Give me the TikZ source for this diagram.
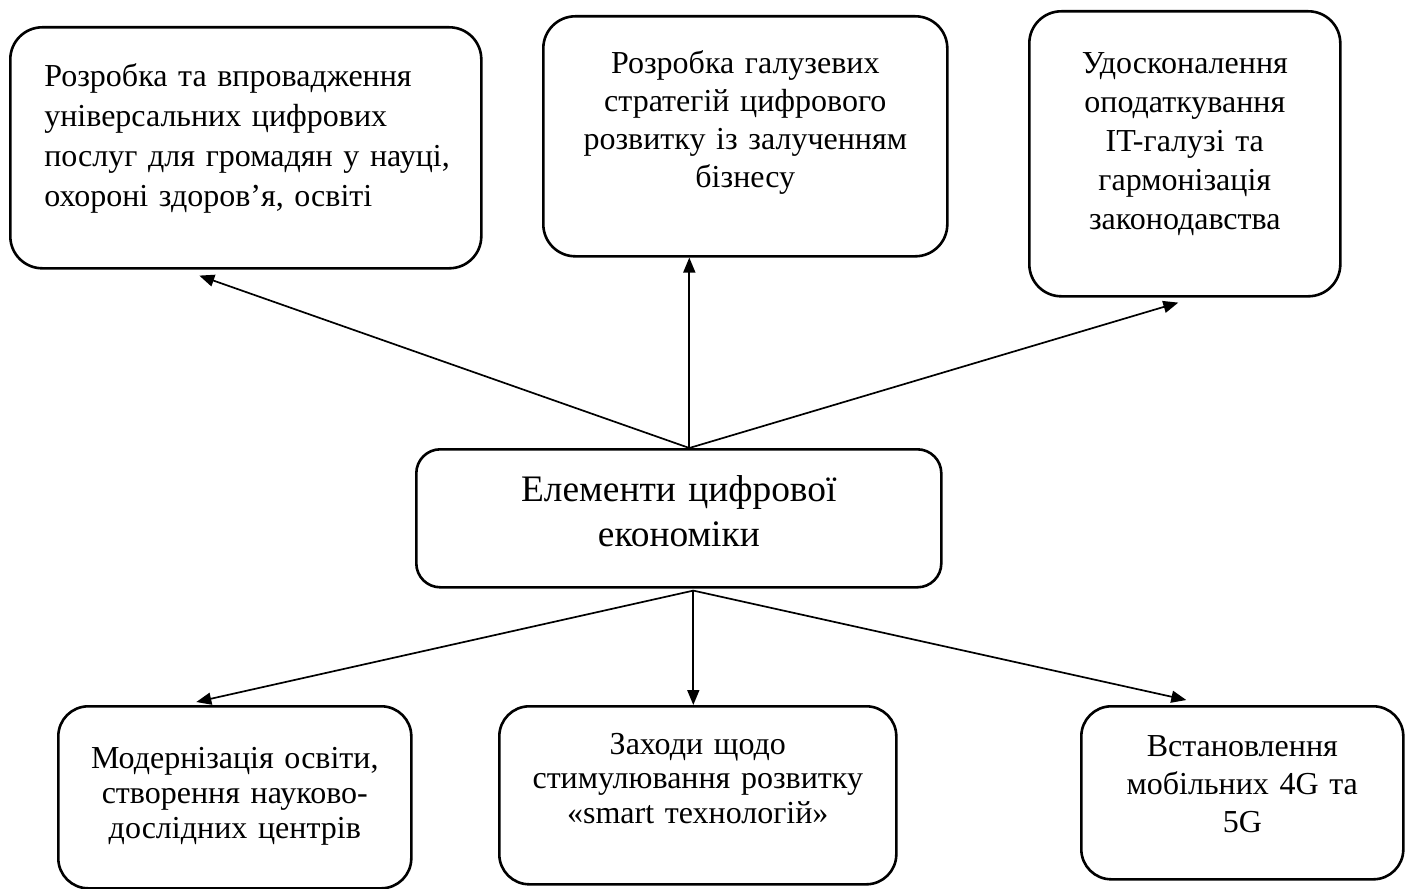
\documentclass[tikz,border=0pt]{standalone}
\usepackage{fontspec}
\setmainfont{Liberation Serif}
\usetikzlibrary{arrows.meta}
\tikzset{
  every picture/.style={line join=round, line cap=round},
  elem/.style={draw, line width=1.3pt, rounded corners=16pt, inner sep=0pt,
    anchor=north west, align=center},
  arr/.style={-{Triangle[length=7.5pt,width=6pt]}, line width=0.85pt},
}

\begin{document}
\begin{tikzpicture}[x=0.5pt,y=-0.5pt]
\useasboundingbox (0,0) rectangle (1411,888);
% main element
\node[elem, rounded corners=12pt, text width=262.5pt, text height=26pt, text depth=43pt,
  font=\fontsize{18.7}{22.5}\selectfont] (eco) at (415,448) {Елементи цифрової\\ економіки};
% top row
\node[elem, align=left, text width=235.5pt, text height=29.5pt, text depth=91pt,
  font=\fontsize{16}{20}\selectfont] (tl) at (9,26)
  {\leftskip=17pt Розробка та впровадження\\ універсальних цифрових\\ послуг для громадян у науці,\\ охороні здоров’я, освіті\par};
\node[elem, text width=202pt, text height=28.5pt, text depth=91.5pt,
  font=\fontsize{16}{19}\selectfont] (tm) at (542,15)
  {Розробка галузевих\\ стратегій цифрового\\ розвитку із залученням\\ бізнесу};
\node[elem, text width=155.5pt, text height=31pt, text depth=111.5pt,
  font=\fontsize{16}{19.5}\selectfont] (tr) at (1028,10)
  {Удосконалення\\ оподаткування\\ IT-галузі та\\ гармонізація\\ законодавства};
% bottom row
\node[elem, rounded corners=15pt, text width=176.5pt, text height=31pt, text depth=60pt,
  font=\fontsize{16}{17.5}\selectfont] (bl) at (57,705)
  {Модернізація освіти,\\ створення науково-\\ дослідних центрів};
\node[elem, rounded corners=15pt, text width=198.5pt, text height=24pt, text depth=65pt,
  font=\fontsize{16}{17.25}\selectfont] (bm) at (498,705)
  {Заходи щодо\\ стимулювання розвитку\\ «smart технологій»};
\node[elem, rounded corners=15pt, text width=161pt, text height=25pt, text depth=61.5pt,
  font=\fontsize{16}{19}\selectfont] (br) at (1080,705)
  {Встановлення\\ мобільних 4G та\\ 5G};
% arrows
\coordinate (eco-up) at ([xshift=5.25pt]eco.north);
\coordinate (eco-down) at ([xshift=7.25pt,yshift=-1pt]eco.south);
\draw[arr] (eco-up) -- ([xshift=-23.25pt,yshift=-3pt]tl.south);
\draw[arr] (eco-up) -- ([xshift=-28pt]tm.south);
\draw[arr] (eco-up) -- ([xshift=-3.25pt,yshift=-2.5pt]tr.south);
\draw[arr] (eco-down) -- ([xshift=-19.25pt,yshift=1.5pt]bl.north);
\draw[arr] (eco-down) -- ([xshift=-2.25pt]bm.north);
\draw[arr] (eco-down) -- ([xshift=-28pt,yshift=2.5pt]br.north);
\end{tikzpicture}
\end{document}
